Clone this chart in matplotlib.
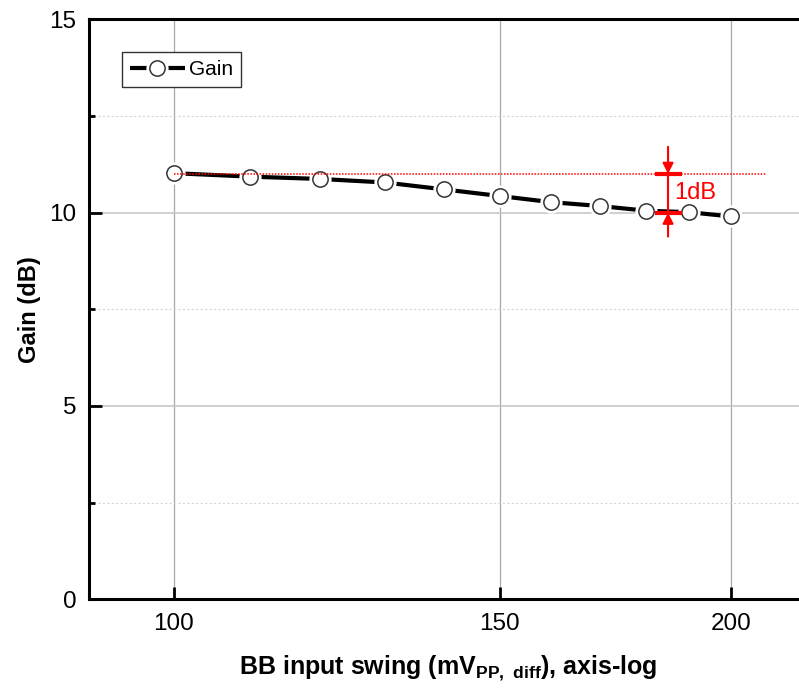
import matplotlib
matplotlib.use("Agg")
import matplotlib.pyplot as plt
from matplotlib.ticker import FixedLocator, FixedFormatter, NullLocator
from matplotlib.legend_handler import HandlerTuple

# Measured gain versus baseband input swing
swing_mv = [100, 110, 120, 130, 140, 150, 160, 170, 180, 190, 200]
gain_db = [11.02, 10.93, 10.87, 10.78, 10.60, 10.43, 10.27, 10.17, 10.05, 10.01, 9.90]

# Reference level and the 1 dB compression marker
ref_gain = 11.0
ref_span = [100, 209]
comp_x = 185
comp_gain = 10.0

x_ticks = [100, 150, 200]
x_tick_labels = ["100", "150", "200"]
y_ticks = [0, 5, 10, 15]
y_minor = [2.5, 7.5, 12.5]

plt.rcParams["font.family"] = ["Liberation Sans", "DejaVu Sans"]

fig = plt.figure(figsize=(7.99, 6.93), dpi=100)
ax = fig.add_axes([0.1114, 0.1352, 0.899, 0.837])

ax.set_xscale("log")
ax.set_xlim(90, 220)
ax.set_ylim(0, 15)

# grid
for xv in x_ticks:
    ax.axvline(xv, color="#a8a8a8", lw=0.9, zorder=0.5)
for yv in [5, 10]:
    ax.axhline(yv, color="#c4c4c4", lw=1.1, zorder=0.5)
for yv in y_minor:
    ax.axhline(yv, color="#d6d6d6", lw=0.8, ls=(0, (2, 2)), zorder=0.5)

# data line with gapped open markers
line, = ax.plot(swing_mv, gain_db, color="black", lw=3.0, zorder=2,
                solid_capstyle="butt")
gap, = ax.plot(swing_mv, gain_db, ls="none", marker="o", ms=15,
               mfc="white", mec="white", zorder=3)
marks, = ax.plot(swing_mv, gain_db, ls="none", marker="o", ms=11,
                 mfc="white", mec="#333333", mew=1.1, zorder=4)

# reference level
ax.plot(ref_span, [ref_gain, ref_gain], color="red", lw=1.1,
        ls=(0, (1, 1)), zorder=5)

# 1 dB marker
bar_half = 1.017
ax.plot([comp_x / bar_half, comp_x * bar_half], [ref_gain, ref_gain],
        color="red", lw=3.0, zorder=6, solid_capstyle="butt")
ax.plot([comp_x / bar_half, comp_x * bar_half], [comp_gain, comp_gain],
        color="red", lw=3.0, zorder=6, solid_capstyle="butt")
ax.plot([comp_x, comp_x], [comp_gain, ref_gain], color="red", lw=1.5, zorder=6)
ax.annotate("", xy=(comp_x, ref_gain), xytext=(comp_x, ref_gain + 0.7),
            arrowprops=dict(arrowstyle="-|>", color="red", lw=1.5,
                            mutation_scale=16, shrinkA=0, shrinkB=0),
            zorder=6)
ax.annotate("", xy=(comp_x, comp_gain), xytext=(comp_x, comp_gain - 0.62),
            arrowprops=dict(arrowstyle="-|>", color="red", lw=1.5,
                            mutation_scale=16, shrinkA=0, shrinkB=0),
            zorder=6)
ax.text(comp_x * 1.008, (ref_gain + comp_gain) / 2, "1dB", color="red",
        fontsize=17, ha="left", va="center", zorder=6)

# axes styling
ax.xaxis.set_major_locator(FixedLocator(x_ticks))
ax.xaxis.set_major_formatter(FixedFormatter(x_tick_labels))
ax.xaxis.set_minor_locator(NullLocator())
ax.yaxis.set_major_locator(FixedLocator(y_ticks))
ax.yaxis.set_minor_locator(FixedLocator(y_minor))
ax.tick_params(axis="both", which="major", direction="in", length=9,
               width=2.0, labelsize=17.5, color="black")
ax.tick_params(axis="y", which="major", pad=9)
ax.tick_params(axis="x", which="major", pad=10)
ax.tick_params(axis="y", which="minor", direction="in", length=4.5, width=2.0)
for side in ["left", "bottom", "top"]:
    ax.spines[side].set_linewidth(2.2)
ax.spines["right"].set_visible(False)

ax.set_xlabel(r"BB input swing (mV$\mathregular{_{PP,\ diff}}$), axis-log",
              fontsize=18, fontweight="bold", labelpad=13)
ax.set_ylabel("Gain (dB)", fontsize=17, fontweight="bold", labelpad=6)

leg = ax.legend([(line, gap, marks)], ["Gain"],
                handler_map={tuple: HandlerTuple(ndivide=1)},
                loc="upper left", bbox_to_anchor=(0.046, 0.944),
                borderaxespad=0, fancybox=False, framealpha=1,
                edgecolor="#333333", fontsize=15, handlelength=2.6,
                handletextpad=0.2, borderpad=0.4)
leg.get_frame().set_linewidth(1.0)

fig.savefig("out.png", dpi=100)
